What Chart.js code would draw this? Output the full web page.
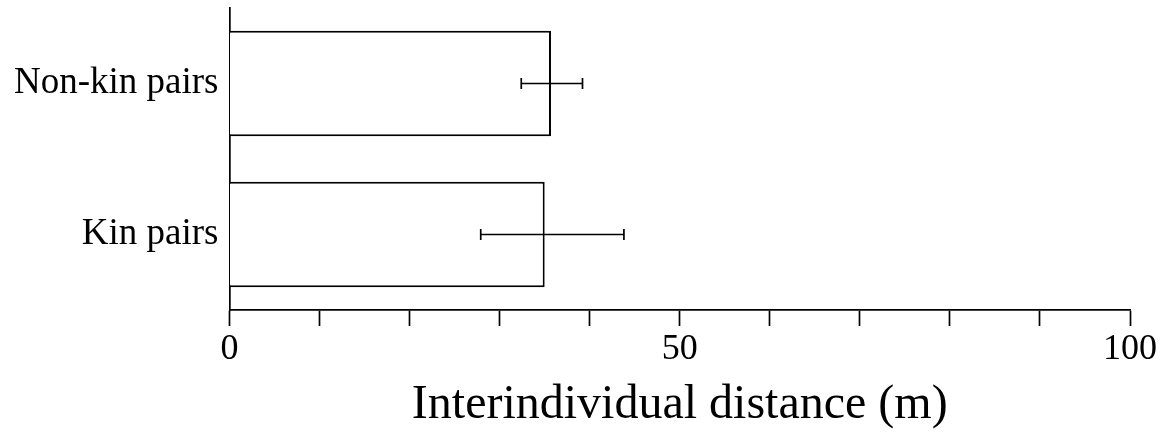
<!DOCTYPE html>
<html>
<head>
<meta charset="utf-8">
<script src="https://cdn.jsdelivr.net/npm/chart.js@4"></script>
<style>
  html, body { margin: 0; padding: 0; background: #fff; }
  #wrap { width: 1175px; height: 434px; position: relative; }
</style>
</head>
<body>
<div id="wrap"><canvas id="myBarChart"></canvas></div>
<script>
const ctx = document.getElementById('myBarChart').getContext('2d');

// Dados
const categories = ['Non-kin pairs', 'Kin pairs'];
const meanDistance = [35.7, 35.0];
const errLow = [32.4, 27.9];   // extremidade esquerda da barra de erro
const errHigh = [39.2, 43.8];  // extremidade direita da barra de erro
const tickLabels = [0, 50, 100];

const serif = "'Liberation Serif', 'Times New Roman', serif";

// Plugin simples para desenhar as barras de erro
const errorBars = {
    id: 'errorBars',
    afterDatasetsDraw(chart) {
        const c = chart.ctx;
        const x = chart.scales.x;
        const meta = chart.getDatasetMeta(0);
        c.save();
        c.strokeStyle = '#000';
        c.lineWidth = 1.7;
        meta.data.forEach((bar, i) => {
            const y = bar.y;
            const x1 = x.getPixelForValue(errLow[i]);
            const x2 = x.getPixelForValue(errHigh[i]);
            c.beginPath();
            c.moveTo(x1, y); c.lineTo(x2, y);
            c.moveTo(x1, y - 5.5); c.lineTo(x1, y + 5.5);
            c.moveTo(x2, y - 5.5); c.lineTo(x2, y + 5.5);
            c.stroke();
        });
        c.restore();
    }
};

const data = {
    labels: categories,
    datasets: [{
        data: meanDistance,
        backgroundColor: '#ffffff',
        borderColor: '#000000',
        borderWidth: 2,
        barPercentage: 0.7,
        categoryPercentage: 1.0
    }]
};

const config = {
    type: 'bar',
    data: data,
    options: {
        indexAxis: 'y',
        responsive: true,
        maintainAspectRatio: false,
        animation: false,
        layout: { padding: { top: 8, right: 45, left: 0, bottom: 0 } },
        plugins: {
            legend: { display: false },
            tooltip: { enabled: false }
        },
        scales: {
            x: {
                min: 0,
                max: 100,
                afterFit: scale => {
                    scale.height = 124;
                    scale.paddingLeft = 0;
                    scale.paddingRight = 0;
                },
                border: { display: true, color: '#000', width: 1.7 },
                grid: {
                    drawOnChartArea: false,
                    drawTicks: true,
                    tickLength: 16,
                    tickWidth: 1.7,
                    tickColor: '#000'
                },
                ticks: {
                    stepSize: 10,
                    autoSkip: false,
                    maxRotation: 0,
                    padding: 2,
                    color: '#000',
                    font: { family: serif, size: 36 },
                    callback: v => tickLabels.includes(v) ? String(v) : ''
                },
                title: {
                    display: true,
                    text: 'Interindividual distance (m)',
                    color: '#000',
                    font: { family: serif, size: 48 },
                    padding: { top: 0, bottom: 0 }
                }
            },
            y: {
                afterFit: scale => {
                    scale.width = 229.5;
                    scale.paddingTop = 0;
                    scale.paddingBottom = 0;
                },
                border: { display: true, color: '#000', width: 1.7 },
                grid: { display: true, drawOnChartArea: false, drawTicks: false },
                ticks: {
                    padding: 11,
                    color: '#000',
                    font: { family: serif, size: 37 }
                }
            }
        }
    },
    plugins: [errorBars]
};

new Chart(ctx, config);
</script>
</body>
</html>
